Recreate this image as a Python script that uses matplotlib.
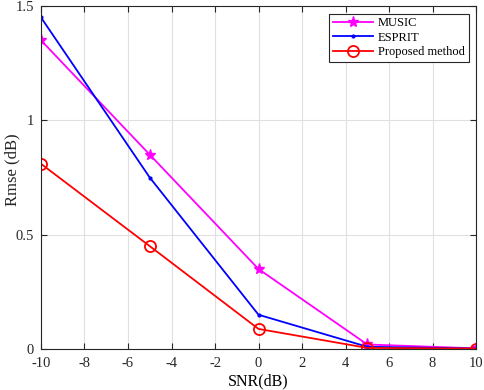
import matplotlib
matplotlib.use("Agg")
import matplotlib.pyplot as plt

snr = [-10, -5, 0, 5, 10]
music = [1.35, 0.85, 0.35, 0.02, 0.003]
esprit = [1.45, 0.75, 0.15, 0.01, 0.002]
proposed = [0.81, 0.45, 0.088, 0.005, 0.002]
xticks = [-10, -8, -6, -4, -2, 0, 2, 4, 6, 8, 10]
yticks = [0, 0.5, 1, 1.5]

plt.rcParams['font.family'] = ['Liberation Serif', 'DejaVu Serif']
plt.rcParams['axes.unicode_minus'] = False
fig = plt.figure(figsize=(4.84, 3.9), dpi=100)
ax = fig.add_axes([0.0847, 0.105, 0.8988, 0.8796])

ax.plot(snr, music, color='#ff00ff', marker='*', markersize=8, lw=1.3, label='MUSIC')
ax.plot(snr, esprit, color='#0000ff', marker='.', markersize=4, lw=1.3, label='ESPRIT')
ax.plot(snr, proposed, color='#ff0000', marker='o', markersize=8, markerfacecolor='none',
        markeredgewidth=1.3, lw=1.3, label='Proposed method')

ax.set_xlim(-10, 10)
ax.set_ylim(0, 1.5)
ax.set_xticks(xticks)
ax.set_xticklabels([str(v) for v in xticks])
ax.set_yticks(yticks)
ax.set_yticklabels(['0', '0.5', '1', '1.5'])
ax.grid(True, color='#e0e0e0', lw=0.8)
ax.tick_params(direction='in', top=True, right=True, labelsize=10.5, colors='#262626', length=4)
ax.tick_params(axis='x', pad=6)
ax.tick_params(axis='y', pad=5)
for s in ax.spines.values():
    s.set_color('#262626')
    s.set_linewidth(0.8)
ax.set_xlabel('SNR(dB)', fontsize=11.5, labelpad=2)
fig.text(12 / 484, 1 - 170 / 390, 'Rmse (dB)', rotation=90, fontsize=12,
         ha='center', va='center', color='#262626')
leg = ax.legend(loc='upper right', fontsize=9, fancybox=False, edgecolor='#262626',
                framealpha=1, handlelength=3.2, borderaxespad=0.6, labelspacing=0.2,
                handletextpad=0.4, borderpad=0.3)
leg.get_frame().set_linewidth(0.8)
fig.savefig('out.png', dpi=100)
